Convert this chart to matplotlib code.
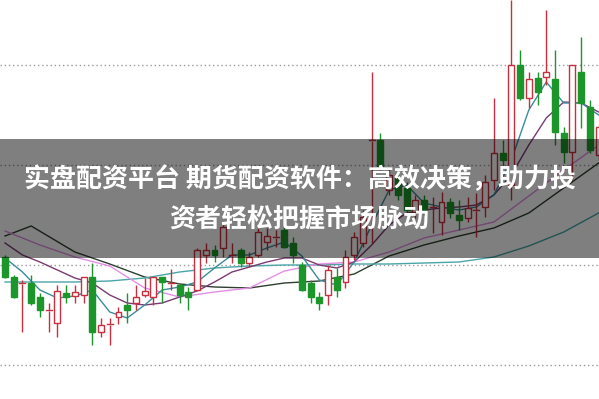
import matplotlib
matplotlib.use("Agg")
import matplotlib.pyplot as plt
from matplotlib.patches import Rectangle

# ---- candle data (arbitrary price units) ----
opens = [40.8, 38.8, 38.1, 38.2, 36.8, 35.4, 34.2, 37.2, 36.9, 37.0,
         38.8, 33.3, 34.0, 34.8, 36.0, 36.2, 37.0, 36.8, 38.8, 38.1,
         38.0, 37.3, 37.5, 41.0, 41.5, 41.7, 40.9, 41.5, 40.2, 41.0,
         42.3, 42.7, 43.5, 42.2, 40.0, 38.2, 36.8, 37.0, 38.8, 38.3,
         41.0, 42.2, 52.4, 52.5, 47.5, 48.7, 47.7, 45.3, 46.5, 45.7,
         44.3, 46.3, 45.0, 44.7, 45.4, 45.8, 48.5, 51.2, 48.0, 60.0,
         56.7, 58.7, 58.8, 58.6, 53.2, 51.3, 59.3, 55.8, 51.0]
highs = [41.0, 39.0, 38.5, 39.0, 37.2, 36.2, 38.0, 38.0, 38.0, 38.0,
         40.2, 34.7, 34.7, 35.8, 37.2, 38.0, 38.7, 38.8, 38.8, 39.6,
         38.1, 37.8, 41.7, 42.2, 42.0, 44.3, 42.2, 41.7, 41.3, 43.7,
         43.7, 43.5, 43.8, 42.8, 40.3, 38.5, 37.3, 40.0, 39.7, 41.5,
         43.3, 45.5, 59.3, 53.2, 49.7, 49.3, 48.3, 47.0, 47.0, 46.8,
         47.3, 46.7, 46.5, 46.8, 47.2, 49.0, 56.7, 52.5, 66.5, 61.5,
         59.3, 59.3, 65.5, 61.5, 53.8, 60.0, 62.8, 56.5, 54.0]
lows = [38.7, 36.7, 33.3, 36.0, 34.8, 33.3, 32.8, 36.2, 36.2, 36.2,
        32.0, 32.8, 32.0, 34.1, 34.2, 35.5, 36.8, 36.0, 36.2, 37.5,
        36.2, 35.5, 37.5, 40.2, 40.3, 40.8, 40.2, 39.8, 39.8, 40.8,
        41.5, 41.8, 41.7, 40.2, 37.4, 36.2, 35.5, 36.0, 36.8, 37.7,
        40.5, 41.8, 42.2, 49.5, 47.0, 46.5, 45.0, 44.7, 45.0, 43.2,
        43.0, 44.7, 43.5, 44.3, 42.8, 44.8, 47.5, 49.8, 46.5, 56.5,
        55.7, 56.0, 58.0, 52.0, 50.2, 48.5, 53.7, 51.2, 50.5]
closes = [38.8, 36.8, 38.2, 36.2, 35.5, 35.5, 37.4, 36.8, 37.3, 38.8,
          33.3, 34.0, 34.1, 35.3, 35.5, 36.8, 37.4, 38.8, 38.3, 38.2,
          37.0, 36.8, 41.5, 41.5, 41.0, 43.8, 41.0, 40.2, 40.8, 43.3,
          42.9, 42.8, 41.8, 41.0, 37.5, 36.8, 36.2, 39.5, 37.5, 40.8,
          42.8, 44.8, 52.5, 49.9, 49.0, 47.0, 45.5, 46.5, 45.5, 45.8,
          46.3, 45.2, 44.5, 45.7, 45.5, 48.3, 51.2, 50.5, 60.0, 56.7,
          58.6, 57.3, 59.3, 53.3, 51.3, 60.0, 56.2, 51.5, 53.8]

# ---- moving-average lines ----
ma_long_idx = [0, 3, 8, 12, 16, 20, 24, 28, 32, 36, 40, 44, 48, 52, 56, 60, 64, 68]
ma_dark = [42.9, 43.9, 41.3, 40.1, 38.8, 38.1, 37.8, 37.7, 38.2, 38.4, 39.1,
           40.9, 42.0, 42.9, 43.7, 45.2, 47.7, 50.2]
ma_idx4 = [0, 4, 8, 12, 16, 20, 24, 28, 32, 36, 40, 44, 48, 52, 56, 60, 64, 68]
ma_teal_long = [38.3, 38.3, 38.3, 38.4, 38.7, 39.3, 39.7, 39.9, 40.0, 40.0,
                40.1, 40.1, 40.2, 40.3, 40.8, 41.9, 43.3, 45.2]
ma_pink = [43.4, 42.0, 40.8, 39.9, 37.7, 36.8, 37.3, 37.7, 39.4, 40.1,
           40.3, 41.3, 42.7, 43.5, 44.3, 46.9, 49.5, 52.0]
ma_idx2 = list(range(0, 69, 2))
ma10 = [42.2, 41.0, 40.3, 39.5, 38.7, 38.2, 37.0, 36.2, 36.0, 36.2,
        36.8, 37.4, 38.3, 39.3, 39.8, 40.3, 40.7, 40.7, 40.0, 39.7,
        40.3, 42.0, 44.0, 45.2, 45.5, 45.7, 45.8, 46.0, 47.0, 49.0,
        52.0, 54.7, 56.3, 56.2, 55.3]
ma5 = [40.7, 39.3, 37.5, 36.7, 36.9, 37.5, 35.3, 34.7, 36.0, 37.5,
       37.8, 38.3, 39.7, 41.0, 41.0, 41.7, 42.3, 40.9, 38.5, 38.0,
       40.3, 44.0, 47.5, 48.0, 46.2, 45.8, 45.5, 45.8, 47.0, 50.5,
       55.5, 58.3, 56.2, 56.2, 55.0]

grid_levels = [30, 40, 50, 60]
title_line1 = "实盘配资平台 期货配资软件：高效决策，助力投"
title_line2 = "资者轻松把握市场脉动"

RED = "#c9303f"
GREEN = "#1c962a"

fig = plt.figure(figsize=(5.99, 3.99), dpi=100)
ax = fig.add_axes([0, 0, 1, 1])
ax.set_xlim(-0.573, 68.04)
ax.set_ylim(26.6, 66.5)
ax.axis("off")

for g in grid_levels:
    ax.axhline(g, color="#9a9a9a", lw=1.0, ls=(0, (1, 2)), zorder=1)

# moving averages
ax.plot(ma_long_idx, ma_dark, color="#2e3f2e", lw=1.0, zorder=2)
ax.plot(ma_idx4, ma_teal_long, color="#4aa5a8", lw=1.0, zorder=2)
ax.plot(ma_idx4, ma_pink, color="#e48ee4", lw=1.0, zorder=2)
ax.plot(ma_idx2, ma10, color="#7a3b72", lw=1.0, zorder=2)
ax.plot(ma_idx2, ma5, color="#3b8d9b", lw=1.0, zorder=2)

w = 0.68
for i, (o, h, l, c) in enumerate(zip(opens, highs, lows, closes)):
    up = c >= o
    col = RED if up else GREEN
    top, bot = max(o, c), min(o, c)
    ax.plot([i, i], [top, h], color=col, lw=1.0, zorder=3, solid_capstyle="butt")
    ax.plot([i, i], [l, bot], color=col, lw=1.0, zorder=3, solid_capstyle="butt")
    if top - bot < 0.25:
        ax.plot([i - w / 2, i + w / 2], [c, c], color=col, lw=1.0, zorder=4)
    else:
        ax.add_patch(Rectangle((i - w / 2, bot), w, top - bot,
                               facecolor="white" if up else col,
                               edgecolor=col, lw=1.0, zorder=4))

# banner overlay
fig.patches.append(Rectangle((0, 1 - 258 / 399), 1, (258 - 139) / 399,
                             transform=fig.transFigure, facecolor="black",
                             alpha=0.5, zorder=10, edgecolor="none"))
fam = ["Noto Sans CJK SC", "DejaVu Sans"]
fig.text(0.5, 1 - 180 / 399, title_line1, ha="center", va="center",
         fontsize=18.7, fontweight="bold", color="white", family=fam, zorder=11)
fig.text(0.5, 1 - 219 / 399, title_line2, ha="center", va="center",
         fontsize=18.7, fontweight="bold", color="white", family=fam, zorder=11)

fig.savefig("out.png", dpi=100)
